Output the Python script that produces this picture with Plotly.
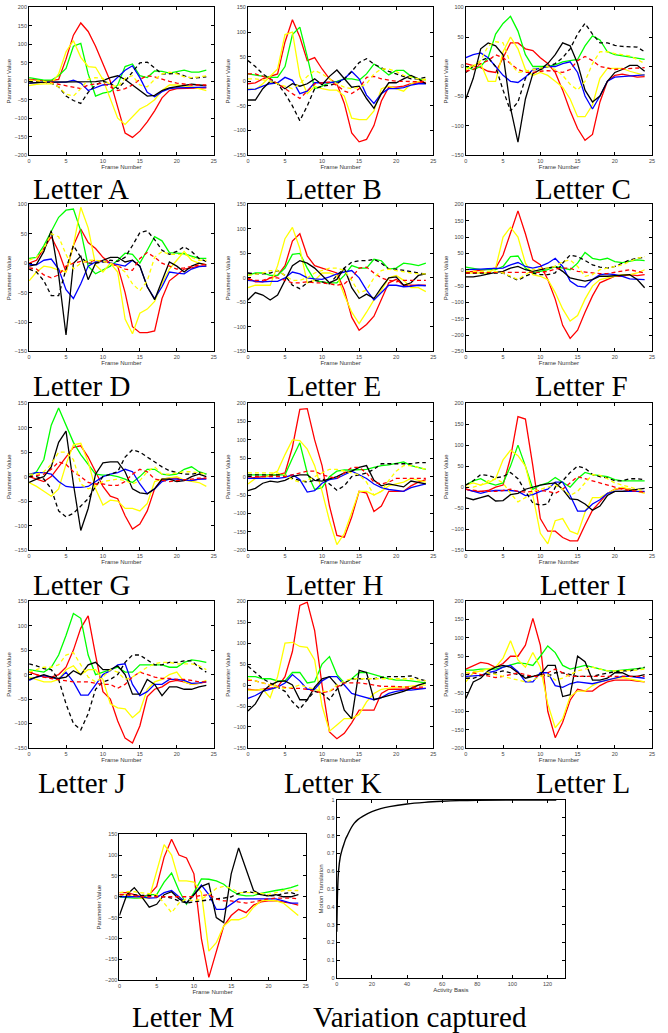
import plotly.graph_objects as go

frames = list(range(25))

# ---------------- Letter A ----------------
A_red = [5, 3, 2, 2, 5, 60, 125, 158, 135, 95, 50, 0, -70, -140, -152, -135, -110, -80, -45, -25, -20, -20, -20, -18, -18]
A_green = [10, 7, 3, 3, 15, 35, 95, 103, 20, -40, -32, -28, -10, 40, 47, 15, 10, 28, 27, 22, 25, 30, 25, 25, 30]
A_yellow = [-12, -8, -7, -7, 20, 80, 110, 65, 40, 38, 5, -50, -100, -117, -95, -75, -65, -50, -25, -10, -10, -12, -15, -20, -25]
A_blue = [-5, -3, -2, -2, -3, -2, 3, -5, -25, -18, -10, -8, 10, 30, 42, 10, -30, -42, -28, -20, -18, -18, -17, -16, -16]
A_black = [-5, -3, -2, -2, -2, -2, -1, -1, -1, -1, 2, 10, 15, 5, -10, -25, -40, -38, -25, -18, -15, -10, -8, -10, -12]
A_blackdash = [0, 0, -2, -5, -15, -40, -52, -60, -30, -10, 0, -5, -20, 0, 25, 50, 52, 35, 20, 20, 22, 15, 8, 10, 12]
A_reddash = [5, 3, 0, -3, -8, -12, -15, -20, -10, -8, -5, -15, -25, -20, -10, 5, 15, 12, 5, 0, -5, -8, -10, -10, -10]
A_yellowdash = [3, 2, 0, -5, -15, -35, -40, -20, 5, 10, 8, -10, -15, 8, 15, -10, -15, 5, 20, 25, 20, 12, 10, 12, 15]

# ---------------- Letter B ----------------
B_red = [-5, -3, 5, 10, 15, 80, 125, 90, 42, 48, 25, 5, -5, -45, -105, -123, -118, -90, -40, -12, -12, -10, -5, -3, -2]
B_green = [15, 13, 10, 8, 8, 30, 95, 110, 50, -15, -10, -3, 0, 5, 5, 2, 15, 35, 25, 13, 22, 22, 10, 5, 3]
B_yellow = [-15, -17, -5, 10, 25, 95, 100, 10, -25, -10, -15, -18, -18, -30, -75, -78, -78, -60, -15, -10, -15, -20, -5, 0, 5]
B_blue = [-17, -16, -10, -5, -3, 8, 2, -25, -20, -3, -3, -3, -2, 5, 20, 5, -28, -45, -25, -15, -15, -13, -8, -5, -5]
B_black = [-38, -38, -15, 0, -5, -15, -5, -10, -5, 5, -7, 10, 23, 5, -12, -10, -35, -55, -25, -3, -3, 5, 12, 5, -5]
B_blackdash = [42, 30, 15, 5, -5, -25, -50, -80, -50, -15, -10, -8, -5, 5, 20, 38, 46, 35, 28, 20, 15, 10, 5, 5, 8]
B_reddash = [15, 15, 10, 5, -5, -15, -25, -35, -20, -5, -3, -2, -8, -20, -25, -15, 8, 10, 5, 2, 0, 0, -1, -1, 0]
B_yellowdash = [5, 5, 3, 0, -5, -10, -15, -5, 10, 22, 15, 5, -5, -12, -15, -12, -5, 15, 25, 25, 20, 12, 8, 5, 3]

# ---------------- Letter C ----------------
C_red = [5, 2, -2, -8, -10, 15, 40, 40, 30, 27, 15, 5, -10, -40, -75, -105, -125, -115, -60, -25, -15, -13, -15, -18, -17]
C_green = [0, -5, 0, 15, 55, 73, 85, 60, 20, 0, 0, 0, 3, 8, 10, 12, 35, 52, 45, 25, 20, 18, 15, 13, 12]
C_yellow = [-5, 2, 5, -25, -25, 25, 50, 30, -5, -15, -10, -15, -25, -35, -55, -85, -85, -65, -20, -3, -3, -3, -8, -12, -15]
C_blue = [15, 20, 23, 15, 0, -15, -25, -27, -18, -5, -3, 0, 0, 5, 8, -10, -50, -72, -50, -25, -18, -17, -16, -15, -14]
C_black = [-55, -20, 30, 40, 35, 20, -70, -128, -55, -12, -5, 5, 20, 40, 35, 5, -40, -60, -50, -25, -10, -5, 2, 2, -8]
C_blackdash = [-10, 0, 10, 15, 0, -40, -75, -60, -20, -5, -5, 0, 5, 15, 30, 55, 73, 55, 40, 40, 36, 34, 34, 33, 25]
C_reddash = [-8, -5, 5, 10, 20, 15, 5, -5, -10, -10, -8, -7, -8, -10, -5, 10, 17, 10, 0, -3, -5, -4, -3, -2, -2]
C_yellowdash = [-5, 0, 10, 35, 42, 40, 5, -10, -8, -5, -2, 0, -5, -15, -30, -40, -25, 5, 25, 25, 22, 20, 18, 12, 5]

# ---------------- Letter D ----------------
D_red = [0, 5, 25, 45, 20, -15, 30, 58, 35, 25, 10, 0, -5, -50, -108, -118, -118, -115, -60, -30, -20, -10, -8, -5, -5]
D_green = [8, 10, 30, 55, 78, 90, 92, 55, -5, -18, -12, -5, 5, 17, 15, 0, 22, 45, 38, 18, 17, 16, 12, 8, 8]
D_yellow = [-30, -15, -5, -7, -12, -15, 30, 95, 60, -3, -15, 0, -15, -95, -120, -85, -78, -65, -35, -10, 5, 20, 5, 0, -3]
D_blue = [-2, -3, 5, 7, -10, -45, -60, -35, -5, 2, 3, 0, -3, -5, 5, -5, -40, -60, -40, -15, -17, -18, -10, -6, -5]
D_black = [-5, -2, 20, 55, -20, -122, 0, 12, -28, 0, 5, 10, 10, 2, 5, -5, -40, -62, -30, 2, -5, -15, -5, 0, -3]
D_blackdash = [-10, -15, -30, -55, -55, -10, 30, 10, 0, 0, 2, 5, 3, 10, 30, 52, 55, 40, 22, 15, 20, 28, 20, 8, 3]
D_reddash = [-8, -10, -20, -25, -20, -5, 0, 3, 2, 5, 3, 0, -5, -10, -12, 8, 18, 10, 0, -5, -10, -8, -5, -3, -2]
D_yellowdash = [5, 10, 25, 50, 45, 15, -10, 0, 5, 5, 3, 0, -5, -15, -35, -47, -30, 10, 20, 15, 15, 15, 10, 5, 5]

# ---------------- Letter E ----------------
E_red = [0, -8, -8, 0, 5, 25, 75, 90, 45, 25, 20, 15, 10, -25, -80, -107, -95, -78, -45, -10, -3, -15, -15, -15, -15]
E_green = [5, 10, 10, 5, 5, 20, 48, 50, 20, -5, -8, -10, -10, 5, 25, 20, 20, 38, 35, 18, 20, 30, 28, 25, 30]
E_yellow = [-20, -15, -15, -15, 25, 80, 103, 60, -10, -5, 10, 10, 5, -35, -70, -93, -70, -45, -25, 0, 5, -5, -20, -20, -28]
E_blue = [-5, -7, -8, -7, -7, 0, 12, 8, 0, -2, -3, 2, 8, 12, 15, 0, -25, -45, -30, -15, -15, -18, -17, -15, -16]
E_black = [-45, -30, -35, -45, -35, -5, 25, 35, 30, 20, 5, -10, -3, 20, -20, -42, -33, -42, -20, 0, 2, -15, -10, 5, 8]
E_blackdash = [10, 8, 8, 10, 15, 5, -15, -22, -10, -5, -8, -12, 5, 20, 32, 35, 35, 38, 30, 18, 18, 15, 12, 10, 8]
E_reddash = [-3, -5, -5, 0, 0, -5, -10, -10, -8, -10, -10, -12, -15, -12, 0, 20, 22, 10, 0, -5, -8, -5, -5, -5, -5]
E_yellowdash = [5, 8, 10, 15, 15, 5, -5, -5, 0, 10, 15, 20, 20, 15, -5, -30, -25, 0, 15, 18, 15, 12, 10, 8, 8]

# ---------------- Letter F ----------------
F_red = [-8, -5, -3, 0, 5, 45, 110, 180, 110, 30, 15, -30, -90, -170, -210, -185, -130, -80, -40, -30, -20, -20, -15, -18, -15]
F_green = [8, 3, 0, 0, 0, 10, 40, 42, 5, -10, -5, 0, 10, 5, 0, 20, 53, 35, 30, 35, 25, 22, 25, 30, 28]
F_yellow = [-10, -10, -10, -10, 5, 100, 130, 100, 20, -15, -20, -30, -70, -120, -157, -140, -90, -50, -30, -25, -20, -15, -15, -10, 0]
F_blue = [0, 0, 2, 3, 3, 5, 15, 22, 10, 5, 10, 20, 35, 10, -35, -50, -53, -30, -15, -13, -15, -20, -28, -30, -30]
F_black = [-22, -22, -18, -12, -8, -5, 5, 10, 0, -5, 0, 5, 10, -5, -25, -30, -35, -30, -20, -20, -18, -15, -15, -30, -55]
F_blackdash = [-10, -10, -8, -8, -8, -10, -22, -32, -20, -10, -15, -15, -10, 20, 45, 40, 28, 15, 8, 5, 10, 20, 30, 35, 38]
F_reddash = [-10, -8, -8, -8, -8, -8, -10, -8, -8, -8, -8, -5, 2, 5, 5, -5, -8, -10, -12, -12, -8, -5, 0, -5, -10]
F_yellowdash = [-5, -5, -5, -5, -5, -10, -20, -30, -15, 0, 5, 5, 10, 25, 30, 10, -20, -15, 0, 5, 10, 15, 25, 35, 40]

# ---------------- Letter G ----------------
G_red = [0, -5, -10, 0, 20, 40, 60, 63, 40, 10, -20, -40, -45, -80, -107, -97, -70, -25, -5, -3, -3, -7, -8, -5, -3]
G_green = [0, 10, 35, 105, 140, 105, 70, 45, 25, 5, 3, 3, 0, -5, -12, 0, 15, 15, 5, 3, 5, 15, 20, 10, 5]
G_yellow = [-12, -20, -30, -40, -25, 25, 65, 68, 30, -25, -58, -48, -50, -65, -65, -70, -55, -10, -5, -3, 0, -7, -10, -12, -20]
G_blue = [5, 8, 8, 5, -10, -20, -22, -22, -20, -10, 0, 5, 8, 15, 10, -15, -35, -25, -10, -5, -5, -7, -8, -5, -5]
G_black = [-12, -5, 0, 20, 70, 93, -15, -110, -65, 5, 28, 30, 30, 10, -25, -33, -35, -25, -5, -5, -10, -8, 0, 5, 0]
G_blackdash = [0, 0, -5, -25, -70, -82, -75, -60, -45, -20, 0, 5, 10, 40, 55, 50, 40, 30, 20, 12, 8, 5, 5, 8, 5]
G_reddash = [0, 3, 5, 15, 30, 25, 10, 0, -12, -15, -15, -18, -18, -10, 5, 15, 10, -5, -8, -10, -8, -7, -5, -3, -3]
G_yellowdash = [5, 5, 10, 25, 50, 50, 35, -15, -25, -20, -10, -8, -5, -8, -15, -8, 10, 20, 5, 5, 8, 10, 10, 8, 5]

# ---------------- Letter H ----------------
H_red = [-5, -3, 0, 2, 5, 10, 80, 183, 185, 100, 30, -80, -160, -165, -110, -40, -45, -95, -80, -40, -40, -40, -25, -15, -8]
H_green = [5, 5, 3, 3, 3, 5, 50, 92, 10, -35, -30, 0, 15, 18, 18, 20, 20, 25, 30, 32, 35, 40, 30, 25, 20]
H_yellow = [-20, -5, -5, 5, 15, 60, 100, 98, 75, 30, -40, -120, -185, -155, -100, -40, -40, -50, -40, -25, -20, -15, -5, -10, -15]
H_blue = [-5, -5, -5, -5, -5, -2, 5, -8, -42, -38, -18, -8, -5, 5, 15, 5, -5, -20, -30, -35, -38, -40, -30, -25, -20]
H_black = [-38, -32, -18, -12, -15, -10, 0, 5, 5, -10, -12, -5, 0, 10, 15, 25, 30, -10, -25, -20, -25, -28, -12, -15, -20]
H_blackdash = [5, 5, 5, 5, 5, 5, -5, -10, -15, -10, -5, -20, -37, -25, 0, 5, 10, 20, 35, 35, 35, 35, 35, 38, 38]
H_reddash = [0, 0, 0, 0, 0, 0, 5, 10, 15, 15, 5, 0, -5, 10, 25, 25, 10, -15, -20, -15, -5, -5, -5, -5, -5]
H_yellowdash = [10, 10, 10, 10, 10, 5, -8, -15, -10, 0, 10, 20, 20, 15, 10, 5, -15, -50, -40, -10, 15, 30, 30, 25, 20]

# ---------------- Letter I ----------------
I_red = [-5, -10, -10, -8, 0, 5, 70, 168, 162, 50, -75, -105, -105, -120, -128, -128, -90, -55, -35, -15, -5, -3, -5, -10, -12]
I_green = [5, 15, 20, 10, 5, 10, 50, 100, 50, -5, 5, 10, 23, 12, 0, 20, 35, 30, 28, 25, 18, 15, 15, 15, 15]
I_yellow = [5, 10, 5, 10, 20, 65, 88, 75, 50, -20, -110, -135, -80, -75, -105, -112, -60, -25, -25, -15, -5, 0, -5, -10, -15]
I_blue = [-5, -10, -15, -10, -8, -8, -8, -10, -20, -18, -10, -5, 12, 12, -20, -57, -57, -40, -30, -15, -10, -10, -10, -10, -10]
I_black = [-25, -30, -25, -20, -33, -32, -18, -15, -5, 0, 5, 8, 10, -5, -28, -30, -40, -55, -45, -20, -10, -10, -8, -5, -3]
I_blackdash = [5, 15, 30, 28, 22, 25, 35, 20, -10, -38, -43, -40, 0, 15, 35, 50, 45, 30, 25, 22, 15, 15, 20, 20, 18]
I_reddash = [-5, -8, -10, -10, -10, -8, -5, -10, -12, -10, -8, -10, -15, -5, 10, 25, 20, 15, 10, 5, 0, -5, -8, -10, -12]
I_yellowdash = [0, 0, 5, 15, 20, 10, -15, -35, -25, -10, -5, 0, 5, -5, -20, -10, 10, 30, 28, 20, 10, 5, 0, -5, -10]

# ---------------- Letter J ----------------
J_red = [5, 0, -5, -5, 0, 15, 50, 95, 120, 40, -35, -50, -95, -130, -140, -105, -45, -30, -25, -15, -12, -15, -20, -18, -15]
J_green = [10, 8, 5, 15, 40, 80, 125, 115, 40, 0, 5, 10, 15, 5, 5, 20, 20, 20, 20, 15, 15, 25, 30, 28, 25]
J_yellow = [-5, -10, -15, -15, -10, 10, 18, 0, 10, 10, -10, -60, -68, -70, -88, -75, -30, -15, -10, 0, 5, -15, -20, -18, -12]
J_blue = [-12, -5, -2, -5, -10, 5, -15, -42, -42, -20, 0, 8, 20, 22, -20, -43, -35, -20, -20, -10, -10, -12, -18, -17, -15]
J_black = [-10, -5, 0, -5, -8, -5, 8, 0, 20, 25, 10, 10, 18, 0, -40, -40, -10, -20, -43, -25, -25, -30, -30, -25, -22]
J_blackdash = [22, 18, 12, 10, -10, -60, -100, -113, -80, -30, -15, -10, 0, 25, 40, 40, 30, 20, 20, 25, 25, 28, 28, 15, 5]
J_reddash = [5, 0, -5, -8, -10, -12, -15, -15, -15, -18, -20, -20, -28, -20, -5, 5, 0, -5, -8, -8, -10, -10, -12, -15, -15]
J_yellowdash = [5, 10, 15, 15, 20, 40, 45, 20, -5, -15, -5, 10, 5, -10, -5, 5, 15, 22, 25, 25, 22, 22, 22, 18, 10]

# ---------------- Letter K ----------------
K_red = [-10, -12, -10, -8, -5, 20, 80, 190, 198, 130, 0, -112, -128, -115, -90, -60, -60, -60, -20, -10, -10, -10, -8, -8, -8]
K_green = [20, 20, 15, 15, 10, 10, 30, 30, 5, 8, 50, 68, 25, 5, 15, 30, 30, 25, 20, 15, 12, 12, 10, 8, 5]
K_yellow = [-12, -12, -10, -30, 20, 100, 102, 92, 90, 60, -50, -110, -95, -80, -80, -70, -40, -20, -10, -8, -5, -5, -3, 0, 0]
K_blue = [-32, -25, -15, -10, -5, 5, 25, 10, -10, -10, 10, 20, 20, 0, -20, -25, -30, -35, -30, -20, -15, -12, -12, -10, -8]
K_black = [-62, -45, -15, 0, 8, 10, 0, -35, -35, -5, 15, 20, 0, -60, -80, 35, 30, -35, -30, -25, -20, -15, -8, 0, 5]
K_blackdash = [45, 30, 15, 5, -5, -15, -40, -57, -35, -15, -20, -35, -10, 5, 15, 15, 15, 15, 18, 20, 20, 20, 22, 15, 10]
K_reddash = [12, 10, 5, 0, -3, -5, -8, -8, -10, -15, -18, -15, -5, 5, 5, 5, 3, 0, -3, -3, -3, -5, -5, -5, -5]
K_yellowdash = [15, 10, 5, 0, -5, -8, -5, 0, -5, -10, -15, -15, 0, 10, 15, 15, 15, 15, 15, 15, 15, 15, 15, 12, 10]

# ---------------- Letter L ----------------
L_red = [15, 25, 33, 30, 20, 30, 50, 50, 80, 153, 80, -100, -172, -130, -70, -40, -45, -45, -30, -20, -15, -15, -15, -18, -20]
L_green = [12, 12, 15, 15, 15, 20, 25, 32, 30, 25, 50, 78, 60, 25, 15, 20, 25, 20, 15, 10, 10, 12, 15, 17, 18]
L_yellow = [-20, 5, 10, 15, 20, 45, 92, 40, 20, 60, 20, -80, -145, -120, -60, -45, -45, -30, -20, -15, -10, -8, -12, -15, -20]
L_blue = [-5, -3, -2, 5, 10, 20, 25, 8, -20, -20, 5, 5, -30, -35, -25, -20, -22, -25, -20, -15, -10, -5, -5, -8, -10]
L_black = [-65, -20, -10, 10, 20, 25, 20, 5, -10, -5, 0, 25, 25, -60, -55, 50, 35, -15, -15, -10, 5, 5, -5, -5, 0]
L_blackdash = [-10, -10, -3, 0, 5, 10, 5, 0, -5, -5, 0, -5, 5, 5, 0, -5, -5, -5, 0, 5, 8, 10, 10, 15, 20]
L_reddash = [0, 5, 0, -5, -8, -5, 0, 5, 0, -5, -5, 5, 15, 5, -5, -5, -5, -5, -5, -5, -5, -5, -5, -5, -5]
L_yellowdash = [5, 8, 10, 5, 0, -5, -10, -15, -20, -15, -5, 0, -15, -10, 0, 10, 15, 20, 15, 10, 10, 10, 10, 12, 15]

# ---------------- Letter M ----------------
M_red = [10, 10, 5, 0, 5, 25, 95, 138, 100, 93, 55, -100, -193, -130, -70, -45, -30, -38, -20, -12, -10, -10, -12, -15, -20]
M_green = [0, -2, -3, -3, 5, 5, 35, 57, 15, -18, 10, 43, 42, 38, 30, 15, 5, 2, 3, 8, 12, 15, 18, 22, 28]
M_yellow = [5, 5, 0, -3, -3, 60, 125, 100, 38, 38, 35, 10, -130, -110, -70, -55, -55, -48, -25, -10, -8, -10, -15, -30, -45]
M_blue = [0, 0, 0, 0, -3, -2, 10, 15, 0, -15, 5, 28, 5, -30, -30, -18, -5, -5, -5, -5, -5, -5, -10, -15, -15]
M_black = [-45, 5, 22, 0, -25, -18, 5, 12, -5, -15, 5, 25, 32, -50, -62, 55, 117, 65, 15, 5, 2, 5, 0, 0, 5]
M_blackdash = [5, 5, 5, 3, 3, 3, 0, -3, -10, -15, -12, -10, -8, -5, -3, 0, 8, 12, 10, 5, 2, 3, 8, 10, 5]
M_reddash = [5, 5, 3, 0, 0, 0, 0, 0, 0, 0, 0, 3, 5, -5, -10, -10, -12, -15, -12, -8, -5, -3, -3, -3, -5]
M_yellowdash = [10, 12, 12, 10, 8, 5, -15, -38, -15, -5, -10, -5, 5, 20, 25, 20, 10, 10, 10, 8, 5, 10, 15, 15, 15]

# ---------------- Variation captured ----------------
basis_count = [0, 0.5, 1, 2, 3, 4, 5, 6, 8, 10, 12, 15, 20, 25, 30, 40, 50, 60, 70, 80, 100, 125]
variation_frac = [0.26, 0.5, 0.6, 0.68, 0.72, 0.75, 0.78, 0.8, 0.84, 0.87, 0.89, 0.91, 0.935, 0.952, 0.963, 0.978, 0.987, 0.993, 0.997, 0.999, 1.0, 1.0]

panel_names = ["Letter A", "Letter B", "Letter C", "Letter D", "Letter E", "Letter F",
               "Letter G", "Letter H", "Letter I", "Letter J", "Letter K", "Letter L", "Letter M"]
panel_series = [
    (A_red, A_green, A_yellow, A_blue, A_black, A_blackdash, A_reddash, A_yellowdash),
    (B_red, B_green, B_yellow, B_blue, B_black, B_blackdash, B_reddash, B_yellowdash),
    (C_red, C_green, C_yellow, C_blue, C_black, C_blackdash, C_reddash, C_yellowdash),
    (D_red, D_green, D_yellow, D_blue, D_black, D_blackdash, D_reddash, D_yellowdash),
    (E_red, E_green, E_yellow, E_blue, E_black, E_blackdash, E_reddash, E_yellowdash),
    (F_red, F_green, F_yellow, F_blue, F_black, F_blackdash, F_reddash, F_yellowdash),
    (G_red, G_green, G_yellow, G_blue, G_black, G_blackdash, G_reddash, G_yellowdash),
    (H_red, H_green, H_yellow, H_blue, H_black, H_blackdash, H_reddash, H_yellowdash),
    (I_red, I_green, I_yellow, I_blue, I_black, I_blackdash, I_reddash, I_yellowdash),
    (J_red, J_green, J_yellow, J_blue, J_black, J_blackdash, J_reddash, J_yellowdash),
    (K_red, K_green, K_yellow, K_blue, K_black, K_blackdash, K_reddash, K_yellowdash),
    (L_red, L_green, L_yellow, L_blue, L_black, L_blackdash, L_reddash, L_yellowdash),
    (M_red, M_green, M_yellow, M_blue, M_black, M_blackdash, M_reddash, M_yellowdash),
]
y_ranges = [(-200, 200), (-150, 150), (-150, 100), (-150, 100), (-150, 150), (-250, 200),
            (-150, 150), (-200, 200), (-150, 200), (-150, 150), (-150, 200), (-200, 200), (-200, 150)]

series_styles = [("#ff0000", "solid"), ("#00ff00", "solid"), ("#ffff00", "solid"), ("#0000ff", "solid"),
                 ("#000000", "solid"), ("#000000", "4px,3px"), ("#ff0000", "4px,3px"), ("#ffff00", "4px,3px")]

W, H = 668, 1033
# panel boxes in pixels: (x0, x1, ytop, ybottom)
col_x = [(27.3, 213.3), (247.8, 434.5), (467.3, 655.0)]
row_y = [(4.5, 153.0), (202.5, 350.5), (402.5, 550.3), (601.7, 749.3)]
boxes = []
for r in range(4):
    for c in range(3):
        boxes.append((col_x[c][0], col_x[c][1], row_y[r][0], row_y[r][1]))
boxes.append((118.3, 306.0, 836.0, 983.0))
var_box = (337.3, 567.3, 801.7, 980.7)

label_pos = [(29, 187), (284, 187), (535, 187),
             (29, 385), (285, 385), (535, 385),
             (29, 585), (284, 585), (540, 585),
             (34, 785), (282, 785), (536, 785),
             (129, 1020)]

fig = go.Figure()
layout = dict(width=W, height=H, margin=dict(l=0, r=0, t=0, b=0),
              paper_bgcolor="white", plot_bgcolor="white", showlegend=False)

tick_font = dict(family="Liberation Sans, Arial, sans-serif", size=5.5, color="#444")
title_font = dict(family="Liberation Sans, Arial, sans-serif", size=6, color="#333")
label_font = dict(family="Liberation Serif, DejaVu Serif, serif", size=29, color="black")

def axis_common():
    return dict(showline=True, linecolor="black", linewidth=1, mirror="ticks",
                ticks="inside", ticklen=3, tickcolor="black", tickwidth=0.8,
                showgrid=False, zeroline=False, tickfont=tick_font)

annotations = []
for i, (name, series) in enumerate(zip(panel_names, panel_series)):
    k = i + 1
    xa = "xaxis" if k == 1 else f"xaxis{k}"
    ya = "yaxis" if k == 1 else f"yaxis{k}"
    xr = "x" if k == 1 else f"x{k}"
    yr = "y" if k == 1 else f"y{k}"
    x0, x1, yt, yb = boxes[i]
    layout[xa] = dict(domain=[x0 / W, x1 / W], anchor=yr, range=[0, 25], dtick=5,
                      title=dict(text="Frame Number", font=title_font, standoff=1), **axis_common())
    layout[ya] = dict(domain=[1 - yb / H, 1 - yt / H], anchor=xr, range=list(y_ranges[i]), dtick=50,
                      title=dict(text="Parameter Value", font=title_font, standoff=2), **axis_common())
    for vals, (col, dash) in zip(series, series_styles):
        fig.add_trace(go.Scatter(x=frames, y=vals, mode="lines", xaxis=xr, yaxis=yr,
                                 line=dict(color=col, width=1.3, dash=dash), hoverinfo="skip"))
    lx, ly = label_pos[i]
    annotations.append(dict(text=name, x=lx / W, y=1 - ly / H, xref="paper", yref="paper",
                            xanchor="left", yanchor="middle", showarrow=False, font=label_font))

k = 14
x0, x1, yt, yb = var_box
layout[f"xaxis{k}"] = dict(domain=[x0 / W, x1 / W], anchor=f"y{k}", range=[0, 130], dtick=20,
                           title=dict(text="Activity Basis", font=title_font, standoff=1), **axis_common())
layout[f"yaxis{k}"] = dict(domain=[1 - yb / H, 1 - yt / H], anchor=f"x{k}", range=[0, 1], dtick=0.1,
                           title=dict(text="Motion Translation", font=title_font, standoff=2), **axis_common())
fig.add_trace(go.Scatter(x=basis_count, y=variation_frac, mode="lines", xaxis=f"x{k}", yaxis=f"y{k}",
                         line=dict(color="black", width=1.4, shape="spline"), hoverinfo="skip"))
annotations.append(dict(text="Variation captured", x=311 / W, y=1 - 1020 / H, xref="paper", yref="paper",
                        xanchor="left", yanchor="middle", showarrow=False, font=label_font))

layout["annotations"] = annotations
fig.update_layout(**layout)
fig.write_html("out.html")
